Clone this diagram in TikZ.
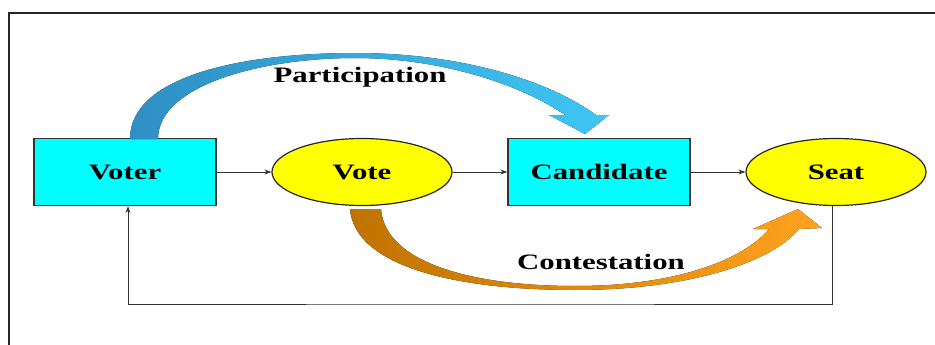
\documentclass[tikz,border=0pt]{standalone}
\usepackage{fontspec}
\setmainfont{Liberation Serif}
\usepackage{tikz}
\usetikzlibrary{positioning}
\usetikzlibrary{shapes.geometric}
\usetikzlibrary{arrows.meta}
\definecolor{boxcyan}{HTML}{00FFFF}
\definecolor{ovalyellow}{HTML}{FFFF00}
\definecolor{partdark}{HTML}{2F8FC4}
\definecolor{partlight}{HTML}{3EC6F4}
\definecolor{contdark}{HTML}{C07300}
\definecolor{contlight}{HTML}{FFA21E}
\newcommand{\wide}[1]{\scalebox{1.4}[1]{#1}}

\begin{document}
\begin{tikzpicture}[x=1pt,y=-1pt,node distance=237pt,on grid,
    every node/.style={font=\fontsize{22}{24}\selectfont\bfseries},
    boxnode/.style={draw=black!80,line width=1.2pt,fill=boxcyan,minimum width=182pt,minimum height=67pt,inner sep=0pt},
    ovalnode/.style={ellipse,draw=black!85,line width=1.2pt,fill=ovalyellow,minimum width=180pt,minimum height=67pt,inner sep=0pt},
    flow/.style={-{Stealth[length=7pt,width=5pt]},line width=0.8pt,black!80}]
        \useasboundingbox (0,0) rectangle (935,345);
        \draw[line width=1.4pt,black!85] (935,13) -- (9,13) -- (9,345);

        \node[boxnode] (voter) at (125,172) {\wide{Voter}};
        \node[ovalnode] (vote) [right=of voter] {\wide{Vote}};
        \node[boxnode] (cand) [right=of vote] {\wide{Candidate}};
        \node[ovalnode] (seat) [right=of cand] {\wide{Seat}};

        % big curved arrows
        \fill[left color=partdark,right color=partlight]
          (130,139) .. controls (130,75) and (245,53) .. (355,53)
          .. controls (460,53) and (548,80) .. (596,115)
          -- (609,115) -- (585,134) -- (549,115) -- (565,115)
          .. controls (520,84) and (440,58) .. (355,58)
          .. controls (262,58) and (158,85) .. (158,139) -- cycle;
        \fill[left color=contdark,right color=contlight]
          (350,209) .. controls (355,268) and (460,290) .. (575,290)
          .. controls (690,290) and (772,262) .. (799,229)
          -- (822,228) -- (798,209) -- (753,229) -- (769,229)
          .. controls (745,258) and (680,286) .. (575,286)
          .. controls (470,286) and (385,262) .. (381,209) -- cycle;

        \node (part) at (360,77) {\wide{Participation}};
        \node (cont) at (601,262) {\wide{Contestation}};

        \coordinate (back) at (480,304);

        \path [flow]
          (voter) edge [] node {} (vote)
          (vote) edge [] node {} (cand)
          (cand) edge [] node {} (seat);
        \draw[flow] ([xshift=-4pt]seat.south) |- (back) -| ([xshift=3pt]voter.south);

      \end{tikzpicture}
\end{document}
